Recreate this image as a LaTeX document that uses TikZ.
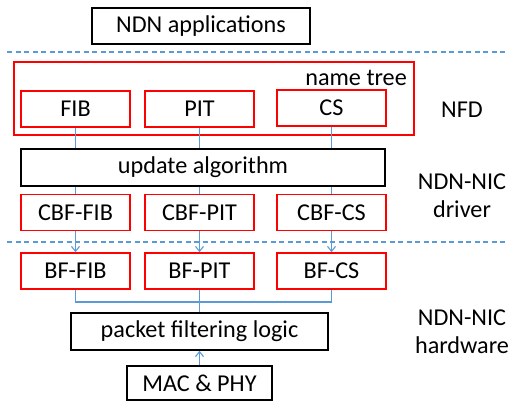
\documentclass[tikz,border=0pt]{standalone}
\usepackage{fontspec}
\setmainfont{Carlito}
\usetikzlibrary{arrows.meta}
\definecolor{linkblue}{RGB}{91,155,213}
\definecolor{boxred}{RGB}{255,0,0}

\begin{document}
\begin{tikzpicture}[x=1pt, y=-1pt, >={Straight Barb[length=5pt,width=8pt]},
  every node/.style={font=\fontsize{24.2}{28}\selectfont, inner sep=0pt},
  blackbox/.style={draw=black, line width=1.5pt, minimum height=36pt},
  redbox/.style={draw=boxred, line width=1.5pt, minimum width=109pt, minimum height=36pt},
  link/.style={draw=linkblue, line width=1.1pt},
  layer/.style={draw=linkblue, line width=1.4pt, dash pattern=on 5pt off 3.5pt}]
  \useasboundingbox (0,0) rectangle (508,401);
  % software
  \node[blackbox, minimum width=218pt] (app) at (201,26) {NDN applications};
  \draw[layer] (7,52) -- (508,52);
  \node[redbox, minimum width=400pt, minimum height=73pt] (tree) at (214,98.5) {};
  \node[anchor=east] (treelabel) at (407,78) {name tree};
  \node[redbox] (fib) at (75.5,109) {FIB};
  \node[redbox] (pit) at (199.5,109) {PIT};
  \node[redbox] (cs) at (331.5,108) {CS};
  \node (nfd) at (462,110) {NFD};
  % driver
  \node[blackbox, minimum width=364pt, minimum height=37pt] (upd) at (203,167.5) {update algorithm};
  \node[redbox] (cbffib) at (75.5,212.5) {CBF-FIB};
  \node[redbox] (cbfpit) at (199.5,212.5) {CBF-PIT};
  \node[redbox] (cbfcs) at (331.5,212.5) {CBF-CS};
  \node[align=center] (drv) at (462,196) {NDN-NIC\\driver};
  \draw[layer] (7,242) -- (508,242);
  % hardware
  \node[redbox] (bffib) at (75.5,271) {BF-FIB};
  \node[redbox] (bfpit) at (199.5,271) {BF-PIT};
  \node[redbox] (bfcs) at (331.5,271) {BF-CS};
  \node[blackbox, minimum width=257pt, minimum height=37pt] (pkt) at (199.5,331.5) {packet filtering logic};
  \node[blackbox, minimum width=145pt, minimum height=34pt] (mac) at (199.5,383) {MAC \& PHY};
  \node[align=center] (hw) at (462,332) {NDN-NIC\\hardware};
  \coordinate (bus) at (199.5,302);
  % connectors
  \foreach \a/\b in {fib/cbffib, pit/cbfpit, cs/cbfcs}{
    \draw[link] (\a.south) -- (\a |- upd.north);
    \draw[link] (\b |- upd.south) -- (\b.north);
  }
  \foreach \a/\b in {cbffib/bffib, cbfpit/bfpit, cbfcs/bfcs}
    \draw[link,->] (\a.south) -- (\b.north);
  \draw[link] (bffib.south) |- (bus) -| (bfcs.south);
  \draw[link] (bfpit.south) -- (pkt.north);
  \draw[link,->] (mac.north) -- (pkt.south);
\end{tikzpicture}
\end{document}
